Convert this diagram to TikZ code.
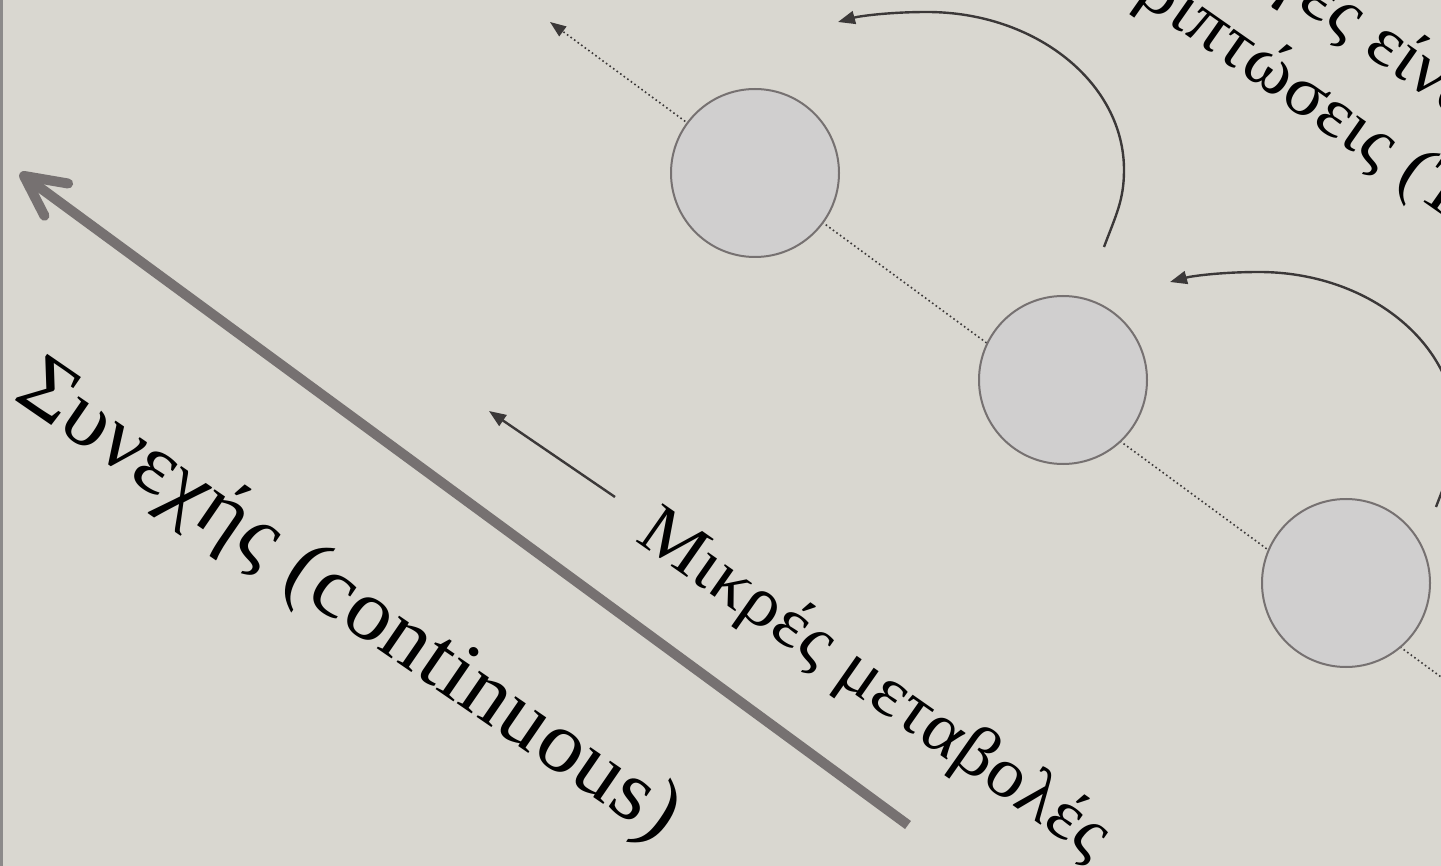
\documentclass[tikz,border=0pt]{standalone}
\usepackage{fontspec}
\setmainfont{Liberation Serif}[FakeStretch=1.06]
\usetikzlibrary{arrows.meta}
\definecolor{paper}{RGB}{217,215,208}
\definecolor{ballfill}{RGB}{208,207,207}
\definecolor{ballline}{RGB}{118,113,113}
\definecolor{shaft}{RGB}{118,113,113}
\definecolor{ink}{RGB}{59,56,56}
\definecolor{edge}{RGB}{140,138,138}
\begin{document}
\begin{tikzpicture}[x=1pt,y=-1pt,
  ball/.style={circle, draw=ballline, fill=ballfill, line width=2pt,
               minimum size=168pt, inner sep=0pt},
  track/.style={draw=ink, line width=1.6pt, dash pattern=on 1.6pt off 2.8pt,
                -{Triangle[length=16pt,width=12pt]}},
  hop/.style={draw=ink, line width=2.4pt, -{Triangle[length=17pt,width=13pt]}},
  bigarrow/.style={draw=shaft, line width=10pt,
                   -{Straight Barb[length=40pt,width=40pt,round]}},
  caption/.style={inner sep=0pt, text=black}]
% paper and left rule
\fill[paper] (0,0) rectangle (1441,866);
\useasboundingbox (0,0) rectangle (1441,866);
\clip (0,0) rectangle (1441,866);
\draw[line width=3pt, draw=edge] (1.5,0) -- (1.5,866);

% dotted track behind the balls
\coordinate (trackend) at (1490,713);
\coordinate (tracktip) at (550,22);
\draw[track] (trackend) -- (tracktip);

% balls
\node[ball] (b1) at (755,173) {};
\node[ball] (b2) at (1063,380) {};
\node[ball] (b3) at (1346,583) {};

% jumps
\coordinate (h1s) at (1104,247);
\coordinate (h1e) at (838,22);
\draw[hop] (h1s) .. controls (1116,215) and (1124,200) .. (1124,170)
  .. controls (1124,83) and (1036,12) .. (927,12)
  .. controls (890,12) and (860,16) .. (h1e);
\coordinate (h2s) at (1436,507);
\coordinate (h2e) at (1170,282);
\draw[hop] (h2s) .. controls (1448,475) and (1456,460) .. (1456,430)
  .. controls (1456,343) and (1368,272) .. (1259,272)
  .. controls (1222,272) and (1192,276) .. (h2e);

% continuous change
\coordinate (bigend) at (908,825);
\coordinate (bigtip) at (20,173);
\draw[bigarrow] (bigend) -- (bigtip);
\node[caption, font=\fontsize{86}{100}\selectfont, rotate=-34.5, anchor=base west]
  (cont) at (12,398) {Συνεχής (continuous)};

% small changes
\coordinate (mstart) at (615,497);
\coordinate (mtip) at (489,411);
\draw[hop] (mstart) -- (mtip);
\node[caption, font=\fontsize{71}{84}\selectfont, rotate=-35, anchor=base west]
  (small) at (634,540) {Μικρές μεταβολές};

% large changes
\node[caption, font=\fontsize{71}{84}\selectfont, rotate=-35, anchor=base west]
  (big1) at (1362,52) {\llap{αλλαγές }είναι};
\node[caption, font=\fontsize{71}{84}\selectfont, rotate=-35, anchor=base west]
  (big2) at (1394,181) {\llap{περιπτώσεις }(Τ};
\end{tikzpicture}
\end{document}
